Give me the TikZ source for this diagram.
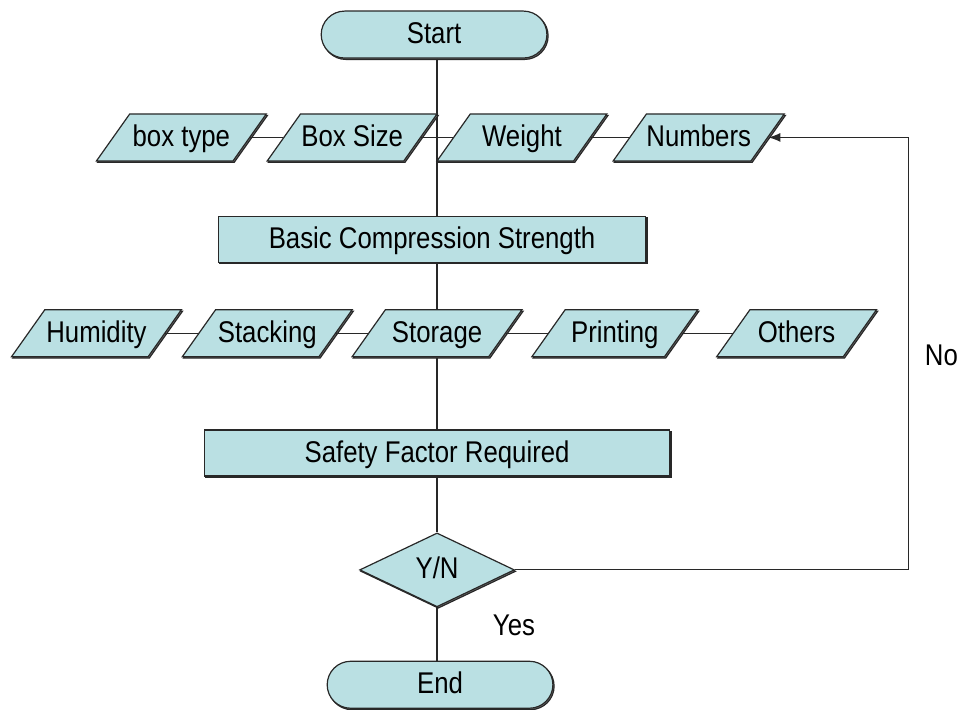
\documentclass[tikz,border=0pt]{standalone}
\usepackage{fontspec}
\setmainfont{Liberation Sans}[FakeStretch=0.86]
\usepackage{tikz}
\usetikzlibrary{arrows.meta,shapes.geometric,shapes.misc,shadows}
\definecolor{boxfill}{RGB}{186,224,227}
\definecolor{boxline}{RGB}{40,40,40}

\begin{document}
\begin{tikzpicture}[
  x=1pt, y=-1pt,
  font=\fontsize{30}{36}\selectfont,
  every path/.style={draw=boxline,line width=1.2pt},
  shade/.style={drop shadow={shadow xshift=1.2pt,shadow yshift=-1.4pt,
    fill=black!55,opacity=1}},
  box/.style={draw=boxline,fill=boxfill,shade,inner sep=0pt,
    text height=22pt,text depth=4pt},
  terminal/.style={box,rounded rectangle,minimum width=226,minimum height=47},
  process/.style={box,rectangle,minimum height=46},
  data/.style={box,trapezium,trapezium left angle=38,trapezium right angle=142,
    trapezium stretches body,minimum width=170,minimum height=47},
  decision/.style={box,diamond,minimum width=155,minimum height=74},
  label/.style={draw=none,inner sep=0pt}
]
\useasboundingbox (0,0) rectangle (960,709);
\fill[white] (0,0) rectangle (960,709);

\node[terminal] (start) at (434,34) {Start};
\node[process,minimum width=428] (basic) at (432,239) {Basic Compression Strength};
\node[process,minimum width=466] (safety) at (437,453) {Safety Factor Required};
\node[decision] (yn) at (437,570) {Y/N};
\node[terminal] (end) at (440,685) {End};

% trunk runs behind the input rows
\coordinate (trunk) at (437,0);
\draw (trunk |- start.south) -- (trunk |- basic.north);
\draw (trunk |- basic.south) -- (trunk |- safety.north);
\draw (safety) -- (yn);
\draw (yn.south) -- (yn.south |- end.north);

% first inputs
\node[data] (boxtype) at (181,137) {box type};
\node[data] (boxsize) at (352,137) {Box Size};
\node[data] (weight) at (522,137) {Weight};
\node[data,minimum width=168] (numbers) at (699,137) {Numbers};
\draw (boxtype.right side) -- (boxsize.left side);
\draw (boxsize.right side) -- (weight.left side);
\draw (weight.right side) -- (numbers.left side);

% second inputs
\node[data] (humidity) at (96,333) {Humidity};
\node[data] (stacking) at (267,333) {Stacking};
\node[data] (storage) at (437,333) {Storage};
\node[data,minimum width=166] (printing) at (615,333) {Printing};
\node[data,minimum width=160] (others) at (797,333) {Others};
\draw (humidity.right side) -- (stacking.left side);
\draw (stacking.right side) -- (storage.left side);
\draw (storage.right side) -- (printing.left side);
\draw (printing.right side) -- (others.left side);

% retry loop
\coordinate (turn) at (909,137);
\draw[-{Latex[length=12pt,width=9pt]}] (yn.east) -| (turn) -- (numbers.right side);
\node[label] (no) at (942,355) {No};
\node[label] (yes) at (514,626) {Yes};
\end{tikzpicture}
\end{document}
